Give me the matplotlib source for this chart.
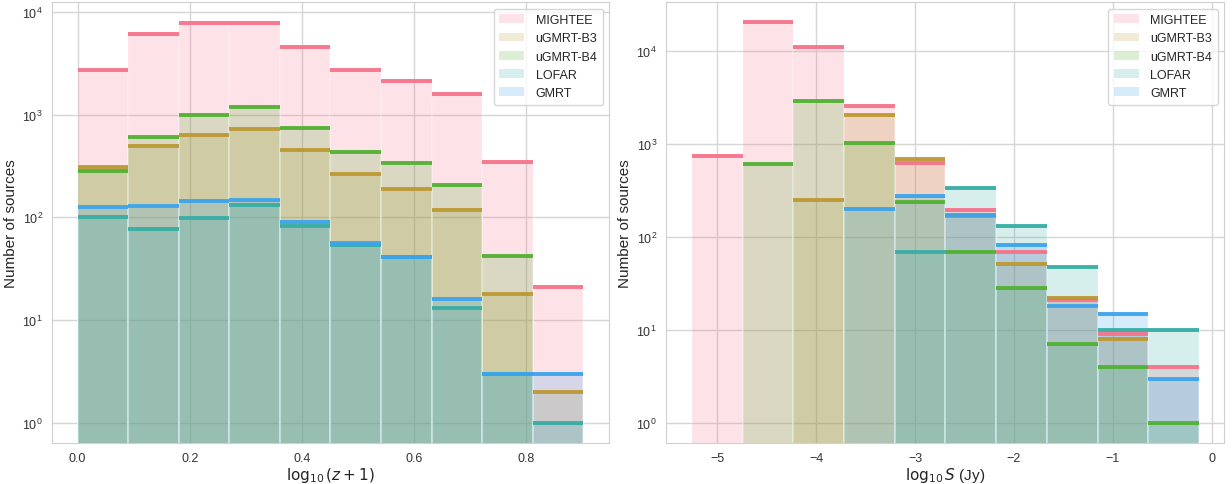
import numpy as np
import matplotlib
matplotlib.use("Agg")
import matplotlib.pyplot as plt
import seaborn as sns
from matplotlib.patches import Patch

sns.set_style("whitegrid")
plt.rcParams['font.family'] = ['Liberation Sans', 'DejaVu Sans']
plt.rcParams['mathtext.fontset'] = 'dejavusans'

surveys = ["MIGHTEE", "uGMRT-B3", "uGMRT-B4", "LOFAR", "GMRT"]
colors = ["#f77189", "#bb9832", "#50b131", "#36ada4", "#3ba3ec"]

# Left panel: redshift distribution, bins in log10(z+1)
z_edges = np.linspace(0.0, 0.902, 11)
z_counts = {
    "MIGHTEE":  [2730, 6100, 7700, 7800, 4500, 2700, 2140, 1600, 342, 21],
    "uGMRT-B3": [312, 490, 630, 718, 452, 265, 189, 119, 18, 2],
    "uGMRT-B4": [282, 603, 1000, 1180, 740, 435, 335, 207, 42, np.nan],
    "LOFAR":    [100, 77, 98, 131, 83, 54, 41, 13, 3, 1],
    "GMRT":     [127, 128, 145, 148, 91, 56, 41.5, 16, 3, 3],
}

# Right panel: flux distribution, bins in log10 S (Jy)
s_edges = np.linspace(-5.255, -0.13, 11)
s_counts = {
    "MIGHTEE":  [740, 20200, 11000, 2540, 620, 194, 69, 21, 9, 4],
    "uGMRT-B3": [np.nan, np.nan, 250, 2040, 690, 166, 51, 22, 8, np.nan],
    "uGMRT-B4": [np.nan, 610, 2880, 1030, 235, 69, 28, 7, 4, 1],
    "LOFAR":    [np.nan, np.nan, np.nan, np.nan, 68, 334, 130, 48, 10, 10],
    "GMRT":     [np.nan, np.nan, np.nan, 197, 275, 171, 82, 18, 15, 3],
}

fig = plt.figure(figsize=(12.32, 4.85), dpi=100)
ax1 = fig.add_axes([0.0422, 0.0845, 0.4524, 0.9087])
ax2 = fig.add_axes([0.5406, 0.0845, 0.4529, 0.9087])


def draw(ax, edges, counts):
    left = edges[:-1]
    width = np.diff(edges)
    for name, c in zip(surveys, colors):
        vals = np.array(counts[name], dtype=float)
        m = ~np.isnan(vals)
        ax.bar(left[m], vals[m], width=width[m], align='edge', color=c,
               alpha=0.2, edgecolor='white', linewidth=1.2, zorder=2)
        ax.hlines(vals[m], left[m], left[m] + width[m], color=c, lw=2.8,
                  alpha=0.95, zorder=3)
    ax.set_yscale('log')
    ax.grid(True, which='major', color='#d6d6d6', lw=1, zorder=2.5)
    for sp in ax.spines.values():
        sp.set_color('#d0d0d0')
    ax.tick_params(labelsize=9, colors='#333333', pad=3)
    handles = [Patch(facecolor=c, alpha=0.2, edgecolor='none') for c in colors]
    ax.legend(handles, surveys, loc='upper right', fontsize=9,
              frameon=True, framealpha=0.8, borderpad=0.45,
              labelspacing=0.5, handlelength=2.0, handletextpad=0.9)
    ax.set_ylabel("Number of sources", fontsize=11, labelpad=3)


draw(ax1, z_edges, z_counts)
ax1.set_xlim(-0.0457, 0.9487)
ax1.set_ylim(0.639, 12340)
ax1.set_xlabel(r"$\log_{10}(z+1)$", fontsize=11, labelpad=1)

draw(ax2, s_edges, s_counts)
ax2.set_xlim(-5.519, 0.124)
ax2.set_ylim(0.61, 33100)
ax2.set_xlabel(r"$\log_{10}S$ (Jy)", fontsize=11, labelpad=1)

fig.savefig("out.png", dpi=100)
